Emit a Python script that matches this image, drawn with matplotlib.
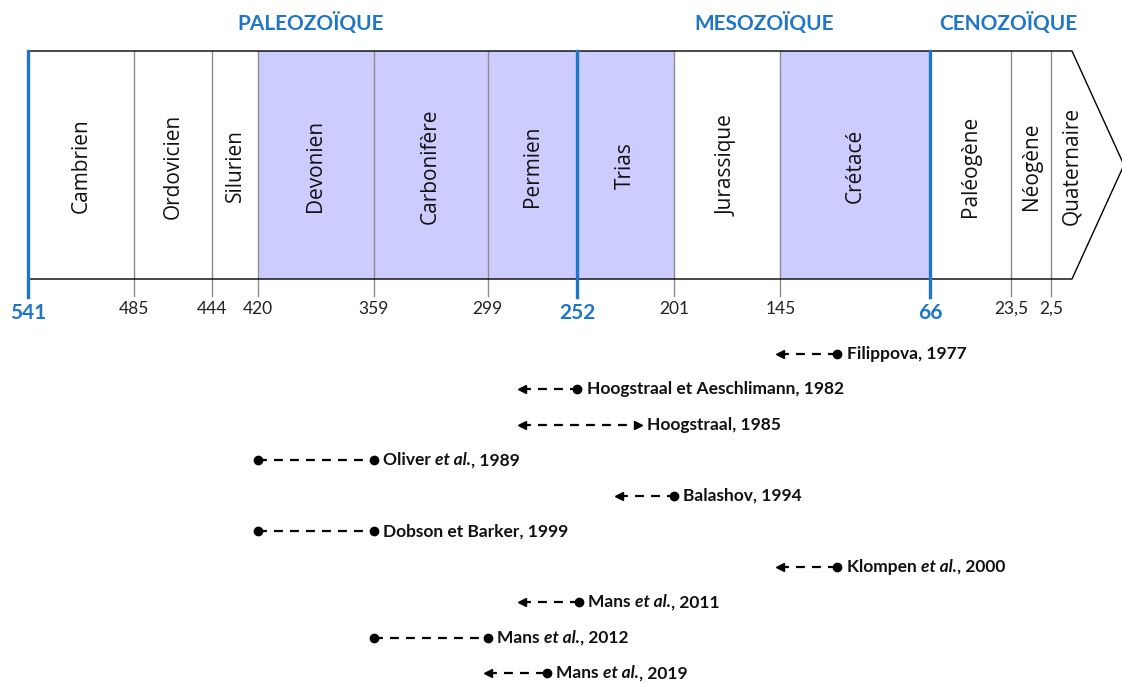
import matplotlib
matplotlib.use("Agg")
import matplotlib.pyplot as plt
from matplotlib.patches import Rectangle

plt.rcParams['font.family'] = ['Lato', 'DejaVu Sans']

# ---- data ----
boundaries = [541, 485, 444, 420, 359, 299, 252, 201, 145, 66, 23.5, 2.5]
tick_labels = ["541", "485", "444", "420", "359", "299", "252", "201", "145", "66", "23,5", "2,5"]
major_ticks = [541, 252, 66]
periods = ["Cambrien", "Ordovicien", "Silurien", "Devonien", "Carbonifère", "Permien",
           "Trias", "Jurassique", "Crétacé", "Paléogène", "Néogène", "Quaternaire"]
period_start = [541, 485, 444, 420, 359, 299, 252, 201, 145, 66, 23.5, 2.5]
period_end = [485, 444, 420, 359, 299, 252, 201, 145, 66, 23.5, 2.5, -19.5]
shaded = ["Devonien", "Carbonifère", "Permien", "Trias", "Crétacé"]
eras = ["PALEOZOÏQUE", "MESOZOÏQUE", "CENOZOÏQUE"]

ref_names = ["Filippova", "Hoogstraal et Aeschlimann", "Hoogstraal", "Oliver", "Balashov",
             "Dobson et Barker", "Klompen", "Mans", "Mans", "Mans"]
ref_etal = [False, False, False, True, False, False, True, True, True, True]
ref_years = ["1977", "1982", "1985", "1989", "1994", "1999", "2000", "2011", "2012", "2019"]
ref_old = [145, 281, 281, 420, 230, 420, 145, 281, 359, 299]      # left end (Ma)
ref_young = [115, 252, 220, 359, 201, 359, 115, 251, 299, 268]    # right end (Ma)
ref_old_style = ["arrow", "arrow", "arrow", "dot", "arrow", "dot", "arrow", "arrow", "dot", "arrow"]
ref_young_style = ["dot", "dot", "arrow", "dot", "dot", "dot", "dot", "dot", "dot", "dot"]

BLUE = "#1F76C6"
SHADE = "#CCCCFF"

fig = plt.figure(figsize=(11.22, 6.84), dpi=100)
ax = fig.add_axes([0, 0, 1, 1])
ax.set_xlim(555.7, -34.8)
ax.set_ylim(684, 0)
ax.axis("off")

def px2age(px):
    return 541 - (px - 28) / 1.9

top, bot = 51, 279
tip_age = px2age(1124)
end_age = px2age(1072)

# shading
for name, s, e in zip(periods, period_start, period_end):
    if name in shaded:
        ax.add_patch(Rectangle((e, top), s - e, bot - top, facecolor=SHADE, edgecolor="none", zorder=0))

# outline
ax.plot([541, end_age, tip_age, end_age, 541], [top, top, (top + bot) / 2, bot, bot],
        color="black", lw=1.0, zorder=3)

# boundaries
for b in boundaries:
    if b in major_ticks:
        ax.plot([b, b], [top, 297], color=BLUE, lw=2.4, zorder=4)
    else:
        ax.plot([b, b], [top, 296], color="#8C8C8C", lw=1.0, zorder=2)

# tick labels
for b, lab in zip(boundaries, tick_labels):
    if b in major_ticks:
        ax.text(b, 313, lab, ha="center", va="center", color=BLUE, fontsize=15, fontweight="bold")
    else:
        ax.text(b, 309, lab, ha="center", va="center", color="#222222", fontsize=12.5)

# period names
for name, s, e in zip(periods, period_start, period_end):
    c = (s + e) / 2
    ax.text(c, 166, name, rotation=90, ha="center", va="center",
            fontsize=15, color="#111111", zorder=5, family=["Open Sans", "DejaVu Sans"])

# era names
era_px = [311, 764, 1008]
for name, p in zip(eras, era_px):
    ax.text(px2age(p), 23, name, ha="center", va="center", color=BLUE, fontsize=15, fontweight="bold")

# references
y0, dy = 354, 35.45
FS = 12.5
for i in range(len(ref_names)):
    y = y0 + i * dy
    a, b = ref_old[i], ref_young[i]
    ax.plot([a, b], [y, y], color="black", lw=1.6, ls=(0, (4, 3.2)), zorder=5)
    for end, style, mk in ((a, ref_old_style[i], "<"), (b, ref_young_style[i], ">")):
        if style == "dot":
            ax.plot([end], [y], marker="o", ms=6, color="black", zorder=6)
        else:
            ax.plot([end], [y], marker=mk, ms=5.5, color="black", zorder=6)
    xt = b - 5
    if ref_etal[i]:
        t = ax.text(xt, y, ref_names[i] + " ", ha="left", va="center", fontsize=FS,
                    fontweight="bold", color="#111111")
        t = ax.annotate("et al.", xy=(1, 0), xycoords=t, ha="left", va="bottom",
                        fontsize=FS, fontweight="bold", style="italic", color="#111111")
        t = ax.annotate(", " + ref_years[i], xy=(1, 0), xycoords=t, ha="left", va="bottom",
                        fontsize=FS, fontweight="bold", color="#111111")
    else:
        ax.text(xt, y, ref_names[i] + ", " + ref_years[i], ha="left", va="center", fontsize=FS,
                fontweight="bold", color="#111111")

fig.savefig("out.png", dpi=100)
